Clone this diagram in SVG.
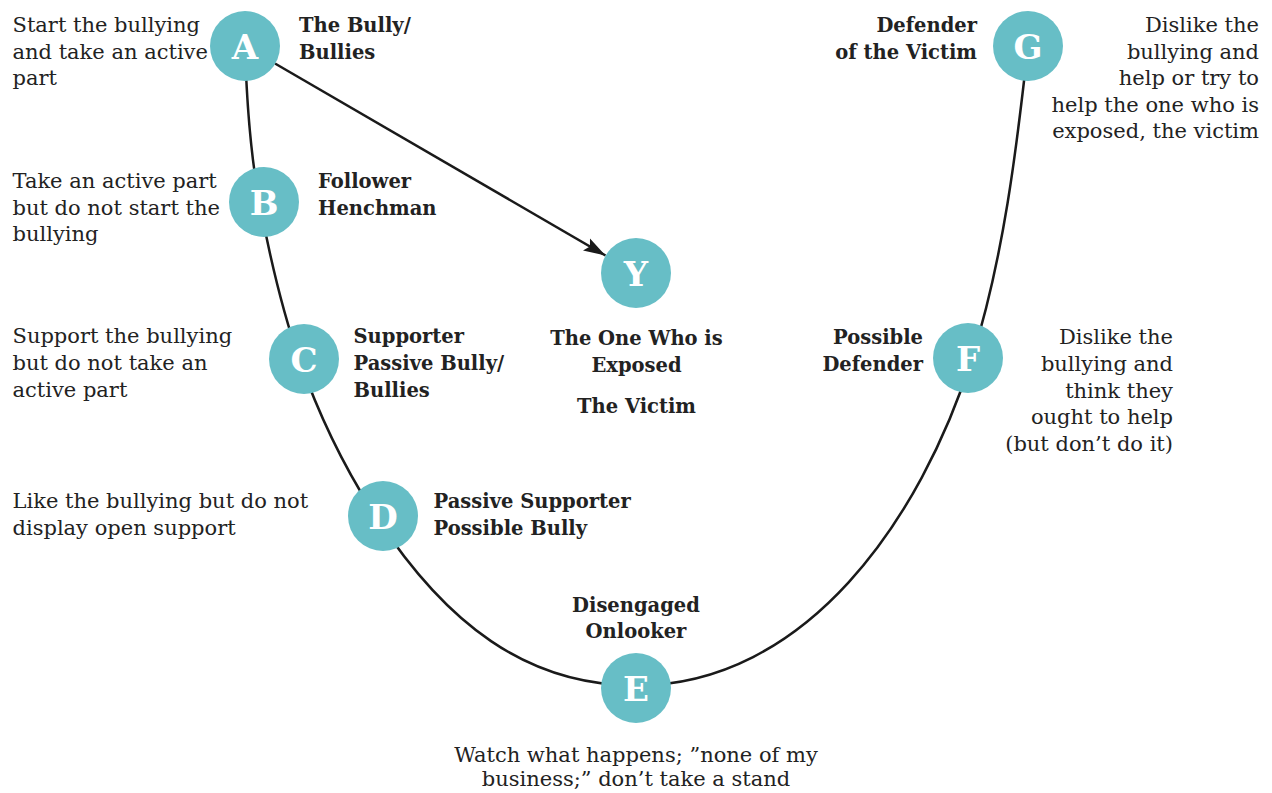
<svg xmlns="http://www.w3.org/2000/svg" width="1272" height="793" viewBox="0 0 1272 793">
<style>
  .desc{font-family:"DejaVu Serif","Liberation Serif",serif;font-size:21px;fill:#222;}
  .lbl{font-family:"DejaVu Serif","Liberation Serif",serif;font-size:19.5px;font-weight:bold;fill:#222;}
  .node circle{fill:#67bec6;}
  .letter{font-family:"DejaVu Serif","Liberation Serif",serif;font-size:34px;font-weight:bold;fill:#fff;text-anchor:middle;}
  .end{text-anchor:end;}
  .mid{text-anchor:middle;}
  .conn{fill:none;stroke:#1a1a1a;stroke-width:2.5;}
</style>
<defs>
  <marker id="arrow" markerUnits="userSpaceOnUse" markerWidth="24" markerHeight="16" viewBox="0 0 24 16" refX="22" refY="8" orient="auto">
    <path d="M0,1 L22,8 L0,15 L4,8 Z" fill="#1a1a1a"/>
  </marker>
</defs>
<rect width="1272" height="793" fill="#fff"/>
<g id="connectors">
  <path class="conn" d="M245,46 C246.5,98 249.9,151.5 259.5,202.5 C269.5,255.4 281.7,309.2 299.5,360 C319,415.5 344.5,468.4 377,518 C445.75,623 526,685.5 636,685.5 C806,685.5 921,519.5 972,358 C1003.5,258 1016.5,150 1028,46"/>
  <line class="conn" x1="275" y1="63.5" x2="605.5" y2="255.5" marker-end="url(#arrow)"/>
</g>
<g id="node-A" class="node">
  <circle cx="245" cy="46" r="35"/>
  <text class="letter" x="245" y="58.5">A</text>
  <text class="lbl" x="299" y="32">The Bully/</text>
  <text class="lbl" x="299" y="58.5">Bullies</text>
  <text class="desc" x="12.5" y="32">Start the bullying</text>
  <text class="desc" x="12.5" y="58.5">and take an active</text>
  <text class="desc" x="12.5" y="85">part</text>
</g>
<g id="node-B" class="node">
  <circle cx="264" cy="202" r="35"/>
  <text class="letter" x="264" y="214.5">B</text>
  <text class="lbl" x="318" y="188">Follower</text>
  <text class="lbl" x="318" y="214.5">Henchman</text>
  <text class="desc" x="12.5" y="188">Take an active part</text>
  <text class="desc" x="12.5" y="214.5">but do not start the</text>
  <text class="desc" x="12.5" y="241">bullying</text>
</g>
<g id="node-C" class="node">
  <circle cx="304" cy="359" r="35"/>
  <text class="letter" x="304" y="371.5">C</text>
  <text class="lbl" x="353.5" y="343">Supporter</text>
  <text class="lbl" x="353.5" y="370">Passive Bully/</text>
  <text class="lbl" x="353.5" y="396.5">Bullies</text>
  <text class="desc" x="12.5" y="343">Support the bullying</text>
  <text class="desc" x="12.5" y="370">but do not take an</text>
  <text class="desc" x="12.5" y="396.5">active part</text>
</g>
<g id="node-D" class="node">
  <circle cx="383" cy="516" r="35"/>
  <text class="letter" x="383" y="528.5">D</text>
  <text class="lbl" x="433.5" y="508">Passive Supporter</text>
  <text class="lbl" x="433.5" y="535">Possible Bully</text>
  <text class="desc" x="12.5" y="508">Like the bullying but do not</text>
  <text class="desc" x="12.5" y="535">display open support</text>
</g>
<g id="node-E" class="node">
  <circle cx="636" cy="688" r="35"/>
  <text class="letter" x="636" y="700.5">E</text>
  <text class="lbl mid" x="636" y="612">Disengaged</text>
  <text class="lbl mid" x="636" y="638">Onlooker</text>
  <text class="desc mid" x="636" y="762">Watch what happens; ”none of my</text>
  <text class="desc mid" x="636" y="786">business;” don’t take a stand</text>
</g>
<g id="node-F" class="node">
  <circle cx="968" cy="358" r="35"/>
  <text class="letter" x="968" y="370.5">F</text>
  <text class="lbl end" x="923" y="344">Possible</text>
  <text class="lbl end" x="923" y="371">Defender</text>
  <text class="desc end" x="1173" y="344">Dislike the</text>
  <text class="desc end" x="1173" y="371">bullying and</text>
  <text class="desc end" x="1173" y="397.5">think they</text>
  <text class="desc end" x="1173" y="424">ought to help</text>
  <text class="desc end" x="1173" y="450.5">(but don’t do it)</text>
</g>
<g id="node-G" class="node">
  <circle cx="1028" cy="46" r="35"/>
  <text class="letter" x="1028" y="58.5">G</text>
  <text class="lbl end" x="977" y="32">Defender</text>
  <text class="lbl end" x="977" y="58.5">of the Victim</text>
  <text class="desc end" x="1259" y="32">Dislike the</text>
  <text class="desc end" x="1259" y="58.5">bullying and</text>
  <text class="desc end" x="1259" y="85">help or try to</text>
  <text class="desc end" x="1259" y="111.5">help the one who is</text>
  <text class="desc end" x="1259" y="138">exposed, the victim</text>
</g>
<g id="node-Y" class="node">
  <circle cx="636" cy="273" r="35"/>
  <text class="letter" x="636" y="285.5">Y</text>
  <text class="lbl mid" x="636.5" y="345">The One Who is</text>
  <text class="lbl mid" x="636.5" y="372">Exposed</text>
  <text class="lbl mid" x="636.5" y="412.5">The Victim</text>
</g>
</svg>
